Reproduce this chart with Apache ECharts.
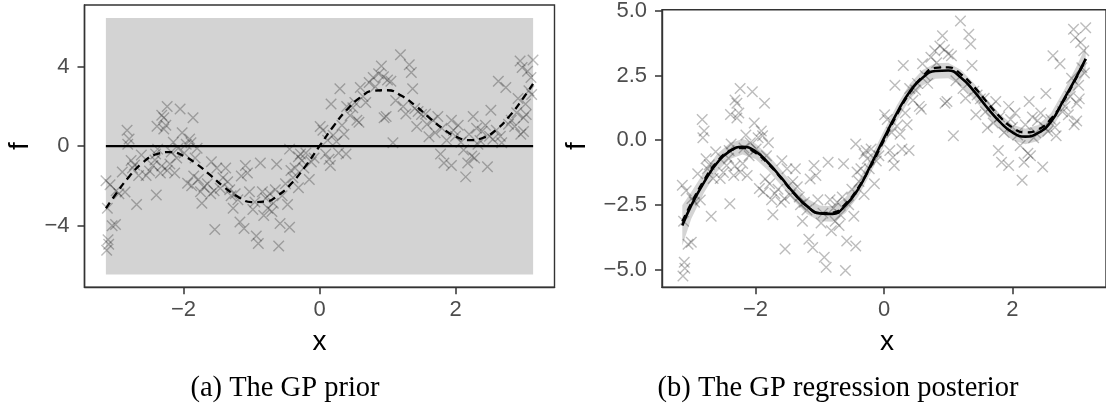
<!DOCTYPE html>
<html>
<head>
<meta charset="utf-8">
<script src="https://cdn.jsdelivr.net/npm/echarts@6/dist/echarts.min.js"></script>
<style>
  html, body { margin: 0; padding: 0; background: #ffffff; }
  #chart { width: 1106px; height: 408px; }
</style>
</head>
<body>
<div id="chart"></div>
<script>
// ---------------- data ----------------
const curveX = [-3.14, -3.0, -2.8, -2.6, -2.4, -2.2, -2.0, -1.8, -1.6, -1.4, -1.2, -1.0, -0.8, -0.6, -0.4, -0.2, 0,
                0.2, 0.4, 0.6, 0.8, 1.0, 1.2, 1.4, 1.6, 1.8, 2.0, 2.2, 2.4, 2.6, 2.8, 3.0, 3.14];
// dashed curve (true function)
const trueF = [-3.14, -2.44, -1.54, -0.83, -0.41, -0.30, -0.49, -0.92, -1.48, -2.07, -2.55, -2.82, -2.80, -2.46, -1.83, -0.98, 0,
               0.98, 1.83, 2.46, 2.80, 2.82, 2.55, 2.07, 1.48, 0.92, 0.49, 0.30, 0.41, 0.83, 1.54, 2.44, 3.14];
// solid curve (posterior mean)
const postMean = [-3.30, -2.52, -1.62, -0.88, -0.42, -0.25, -0.43, -0.88, -1.45, -2.05, -2.55, -2.83, -2.85, -2.52, -1.88, -0.93, 0.08,
                  1.05, 1.88, 2.42, 2.68, 2.70, 2.42, 1.90, 1.28, 0.72, 0.30, 0.14, 0.28, 0.72, 1.58, 2.47, 3.15];
// half width of the grey posterior band
const postHalf = [0.78, 0.52, 0.40, 0.34, 0.31, 0.30, 0.30, 0.30, 0.30, 0.30, 0.30, 0.30, 0.30, 0.30, 0.30, 0.30, 0.30,
                  0.30, 0.30, 0.30, 0.30, 0.30, 0.30, 0.30, 0.30, 0.30, 0.30, 0.30, 0.31, 0.32, 0.34, 0.40, 0.48];
// prior (left panel)
const priorX = [-3.1416, 3.1416];
const priorMean = [0, 0];
const priorUpper = [6.47, 6.47];
const priorLower = -6.47;

// noisy observations
const obsX = [-3.14,-3.08,-3.12,-3.05,-3.00,-3.11,-3.13,-3.10,-2.99,-2.95,-2.86,-2.69,-2.83,-2.80,-2.82,-2.77,-2.72,-2.66,-2.90,-2.75,
  -2.62,-2.55,-2.50,-2.45,-2.42,-2.41,-2.38,-2.34,-2.32,-2.29,-2.26,-2.24,-2.32,-2.39,-2.29,-2.24,-2.20,-2.18,-2.13,-2.10,
  -2.05,-2.02,-1.99,-1.96,-1.91,-1.86,-1.89,-1.83,-1.80,-2.15,-2.08,-2.40,-1.94,-1.88,-1.78,-1.73,-1.70,-1.65,-1.59,-1.55,
  -1.51,-1.46,-1.42,-1.38,-1.35,-1.32,-1.30,-1.27,-1.24,-1.54,-1.17,-1.11,-1.09,-1.06,-1.03,-1.20,-1.60,-1.75,-1.85,-1.15,
  -0.95,-0.93,-0.90,-0.87,-0.84,-0.79,-0.76,-0.73,-0.68,-0.65,-0.60,-0.63,-0.58,-0.55,-0.47,-0.44,-0.44,-0.42,-0.39,-0.36,
  -0.31,-0.31,-0.28,-0.26,-0.23,-0.20,-0.15,-0.12,-0.08,-0.98,-0.82,-0.70,-0.50,0.01,0.05,0.09,0.12,0.14,0.16,0.17,
  0.20,0.25,0.28,0.30,0.33,0.36,0.39,0.40,0.45,0.49,0.52,0.55,0.58,0.60,0.64,0.68,0.73,0.79,0.82,0.87,
  0.91,0.94,0.95,0.98,1.00,1.05,1.08,1.12,1.19,1.23,1.27,1.32,1.35,1.37,1.40,1.43,1.45,1.50,1.56,1.58,
  1.61,1.67,1.70,1.74,1.78,1.80,1.83,1.87,1.94,1.94,1.97,2.00,2.04,2.08,2.12,2.15,2.18,2.20,2.24,2.26,
  2.28,2.31,2.33,2.36,2.39,2.44,2.47,2.50,2.52,2.55,2.60,2.63,2.66,2.68,2.74,2.78,2.82,2.87,2.90,2.92,
  2.95,2.98,3.00,3.03,3.00,3.06,3.08,3.11,3.14,3.12,2.96,3.04];
const obsY = [-1.74,-1.95,-3.13,-4.02,-3.95,-4.72,-5.25,-4.95,-2.25,-2.40,-2.31,-2.94,0.80,0.36,0.10,-0.72,-0.95,-1.48,-1.30,-1.10,
  -0.45,-1.48,-1.25,-0.98,-0.70,-0.40,-0.15,-1.36,-1.00,1.43,1.05,2.00,1.56,1.00,0.86,-1.23,-0.90,-0.30,-1.36,-0.60,
  1.88,0.67,-0.34,0.10,0.36,1.43,0.17,-0.60,-0.10,0.20,-0.10,-2.46,-1.87,-2.00,-1.68,-2.88,-2.06,-1.90,-0.79,-2.25,
  -1.10,-2.12,-1.60,-1.10,-1.80,-2.20,-2.50,-3.13,-2.40,-4.21,-3.83,-4.15,-0.98,-1.36,-2.30,-2.70,-2.40,-2.30,-1.50,-1.50,
  -2.82,-4.53,-4.91,-0.85,-2.30,-2.63,-3.13,-2.40,-2.88,-2.20,-5.04,-0.91,-3.90,-2.50,-2.94,-4.09,-0.15,-1.23,-1.60,-1.10,
  -0.53,-2.10,-0.40,-0.72,-1.10,-0.34,-1.68,-0.80,-0.60,-3.20,-3.50,-3.30,-1.90,0.99,0.80,-0.40,0.30,-0.66,-0.98,2.13,
  0.55,0.23,-0.34,2.89,1.05,0.60,-0.40,2.00,1.55,1.94,2.20,1.31,1.20,2.96,2.50,2.20,3.21,3.46,3.00,3.65,
  4.04,3.50,1.43,1.50,3.34,3.27,0.17,2.30,4.61,2.00,1.62,4.10,3.72,2.89,1.90,0.99,1.75,1.60,1.62,1.10,
  0.48,1.31,0.67,1.50,-0.40,0.90,-0.85,0.30,1.31,-0.98,0.80,0.50,1.05,0.20,-0.20,-1.55,-0.85,0.60,-0.50,1.50,
  -0.60,0.90,0.10,0.29,0.75,1.05,-1.04,0.50,1.81,0.35,0.80,3.27,0.50,0.17,2.96,1.10,1.31,0.99,1.69,2.40,
  4.29,3.97,1.43,2.13,0.74,3.78,2.80,3.46,4.35,2.60,0.60,1.60];

// axis ticks
const xTicks = [-2, 0, 2];
const yTicksPrior = [-4, 0, 4];
const yTicksPost = [-5, -2.5, 0, 2.5, 5];

// ---------------- chart ----------------
const zip = (a, b) => a.map((v, i) => [v, b[i]]);
const obs = zip(obsX, obsY);
const minus = s => String(s).replace('-', '\u2212');

const FONT = 'Liberation Sans, Arial, Helvetica, sans-serif';
const SERIF = 'Liberation Serif, Times New Roman, serif';
const frame = '#333333';
const TICK_FS = 22;
const TITLE_FS = 28;
const CAP_FS = 28.5;

function xAxisCfg(gi) {
  return {
    gridIndex: gi, type: 'value', min: -3.456, max: 3.456,
    axisLine: { show: true, onZero: false, lineStyle: { color: frame, width: 1.4 } },
    axisTick: { show: true, length: 7, customValues: xTicks, lineStyle: { color: frame, width: 1.5 } },
    axisLabel: { customValues: xTicks, margin: 12, color: '#4d4d4d', fontSize: TICK_FS, fontFamily: FONT,
                 formatter: v => minus(v) },
    splitLine: { show: false }
  };
}
function yAxisCfg(gi, min, max, ticks, fmt) {
  return {
    gridIndex: gi, type: 'value', min: min, max: max,
    axisLine: { show: true, onZero: false, lineStyle: { color: frame, width: 1.4 } },
    axisTick: { show: true, length: 7, customValues: ticks, lineStyle: { color: frame, width: 1.5 } },
    axisLabel: { customValues: ticks, margin: 15, color: '#4d4d4d', fontSize: TICK_FS, fontFamily: FONT, formatter: fmt },
    splitLine: { show: false }
  };
}

const crossStyle = {
  type: 'scatter',
  symbol: 'path://M0 0L10 10M10 0L0 10',
  symbolSize: 10.5,
  itemStyle: { color: 'rgba(0,0,0,0)', borderColor: 'rgba(0,0,0,0.33)', borderWidth: 1.4 },
  silent: true,
  z: 3
};

function textEl(txt, x, y, font, rot) {
  return { type: 'text', x: x, y: y, rotation: rot || 0, silent: true,
    style: { text: txt, fill: '#000', font: font, align: 'center', verticalAlign: 'middle',
             textAlign: 'center', textVerticalAlign: 'middle' } };
}

const option = {
  animation: false,
  backgroundColor: '#ffffff',
  grid: [
    { left: 84.5, top: 5, width: 470, height: 282.3, show: true, borderColor: frame, borderWidth: 1.4, backgroundColor: 'transparent' },
    { left: 662, top: 5, width: 450, height: 282.3, show: true, borderColor: frame, borderWidth: 1.4, backgroundColor: 'transparent' }
  ],
  xAxis: [xAxisCfg(0), xAxisCfg(1)],
  yAxis: [
    yAxisCfg(0, -7.12, 7.12, yTicksPrior, v => minus(v)),
    yAxisCfg(1, -5.69, 5.05, yTicksPost, v => minus(Number(v).toFixed(1)))
  ],
  graphic: [
    textEl('f', 20, 146, TITLE_FS + 'px ' + FONT, Math.PI / 2),
    textEl('f', 577, 146, TITLE_FS + 'px ' + FONT, Math.PI / 2),
    textEl('x', 319.5, 342, TITLE_FS + 'px ' + FONT),
    textEl('x', 887, 342, TITLE_FS + 'px ' + FONT),
    textEl('(a) The GP prior', 285, 389, CAP_FS + 'px ' + SERIF),
    textEl('(b) The GP regression posterior', 838, 389, CAP_FS + 'px ' + SERIF)
  ],
  series: [
    // ---- left: prior ----
    { type: 'line', xAxisIndex: 0, yAxisIndex: 0, data: zip(priorX, priorUpper), symbol: 'none', silent: true,
      lineStyle: { width: 0, opacity: 0 }, areaStyle: { origin: priorLower, color: '#d3d3d3', opacity: 1 }, z: 1 },
    { type: 'line', xAxisIndex: 0, yAxisIndex: 0, data: zip(priorX, priorMean), symbol: 'none', silent: true,
      lineStyle: { color: '#000', width: 2.2 }, z: 2 },
    Object.assign({}, crossStyle, { xAxisIndex: 0, yAxisIndex: 0, data: obs }),
    { type: 'line', xAxisIndex: 0, yAxisIndex: 0, data: zip(curveX, trueF), symbol: 'none', smooth: true, silent: true,
      lineStyle: { color: '#000', width: 2.3, type: [7, 5] }, z: 5 },
    // ---- right: posterior ----
    { type: 'custom', xAxisIndex: 1, yAxisIndex: 1, silent: true, z: 1,
      data: curveX.map((x, i) => [x, postMean[i] - postHalf[i], postMean[i] + postHalf[i]]),
      encode: { x: 0, y: [1, 2] },
      renderItem: function (params, api) {
        if (params.dataIndex !== 0) return null;
        const pts = [];
        for (let i = 0; i < curveX.length; i++) pts.push(api.coord([curveX[i], postMean[i] + postHalf[i]]));
        for (let i = curveX.length - 1; i >= 0; i--) pts.push(api.coord([curveX[i], postMean[i] - postHalf[i]]));
        return { type: 'polygon', shape: { points: pts }, style: { fill: 'rgba(0,0,0,0.17)', stroke: null } };
      }
    },
    Object.assign({}, crossStyle, { xAxisIndex: 1, yAxisIndex: 1, data: obs }),
    { type: 'line', xAxisIndex: 1, yAxisIndex: 1, data: zip(curveX, postMean), symbol: 'none', smooth: true, silent: true,
      lineStyle: { color: '#000', width: 2.6 }, z: 4 },
    { type: 'line', xAxisIndex: 1, yAxisIndex: 1, data: zip(curveX, trueF), symbol: 'none', smooth: true, silent: true,
      lineStyle: { color: '#000', width: 2.3, type: [7, 5] }, z: 5 }
  ]
};

const chart = echarts.init(document.getElementById('chart'), null, { renderer: 'canvas' });
chart.setOption(option);
</script>
</body>
</html>
